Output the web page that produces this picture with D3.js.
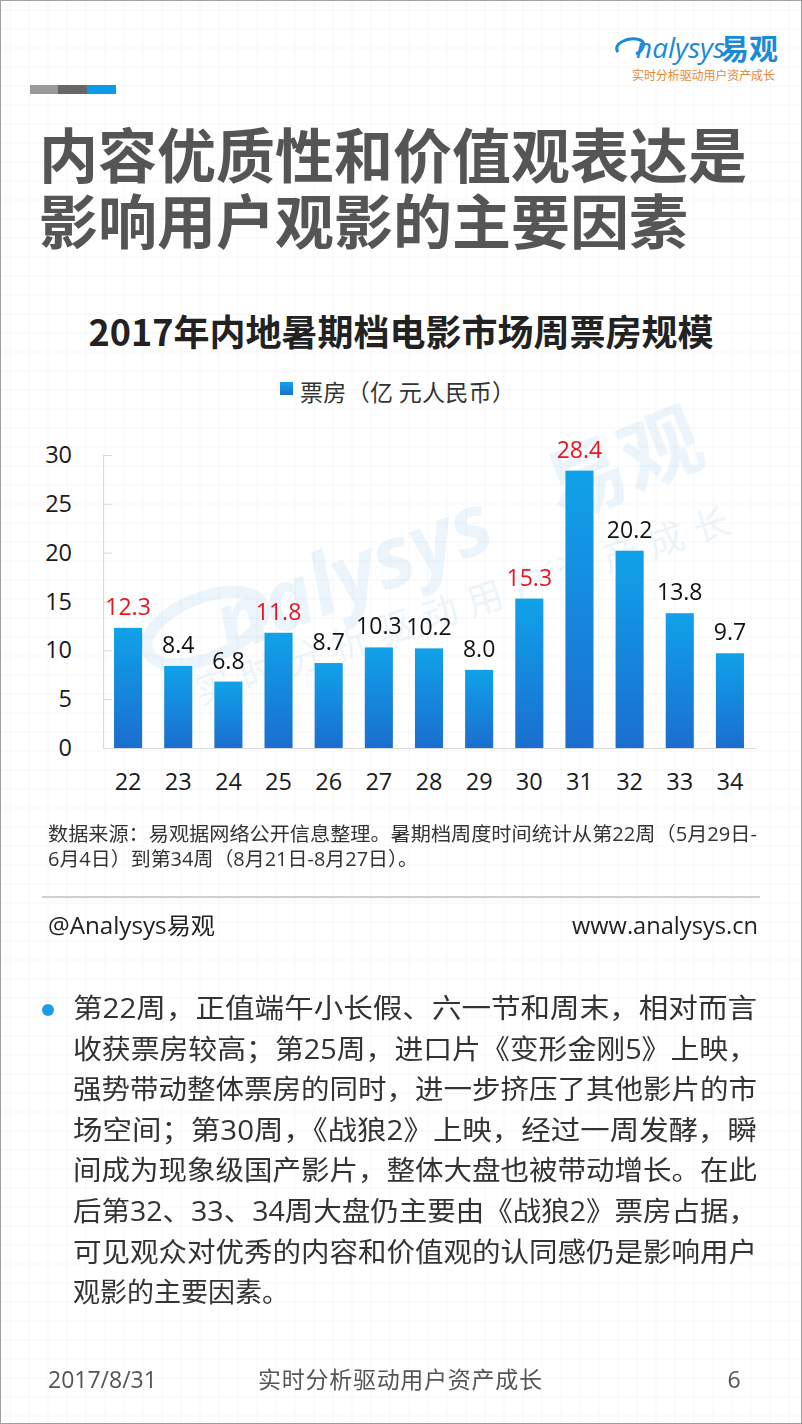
<!DOCTYPE html>
<html>
<head>
<meta charset="utf-8">
<script src="https://cdn.jsdelivr.net/npm/d3@7"></script>
<style>
  body { margin: 0; background: #fff; }
  svg { display: block; }
</style>
</head>
<body>
<script>
// 数据
const weeks = ["22", "23", "24", "25", "26", "27", "28", "29", "30", "31", "32", "33", "34"];
const boxOffice = [12.3, 8.4, 6.8, 11.8, 8.7, 10.3, 10.2, 8.0, 15.3, 28.4, 20.2, 13.8, 9.7];
const redWeeks = ["22", "25", "30", "31"];
const yTicks = [0, 5, 10, 15, 20, 25, 30];

const titleLines = ["内容优质性和价值观表达是", "影响用户观影的主要因素"];
const chartTitle = "2017年内地暑期档电影市场周票房规模";
const legendLabel = "票房（亿 元人民币）";
const noteLines = [
  "数据来源：易观据网络公开信息整理。暑期档周度时间统计从第22周（5月29日-",
  "6月4日）到第34周（8月21日-8月27日）。"
];
const bodyLines = [
  "第22周，正值端午小长假、六一节和周末，相对而言",
  "收获票房较高；第25周，进口片《变形金刚5》上映，",
  "强势带动整体票房的同时，进一步挤压了其他影片的市",
  "场空间；第30周，《战狼2》上映，经过一周发酵，瞬",
  "间成为现象级国产影片，整体大盘也被带动增长。在此",
  "后第32、33、34周大盘仍主要由《战狼2》票房占据，",
  "可见观众对优秀的内容和价值观的认同感仍是影响用户",
  "观影的主要因素。"
];

const width = 802, height = 1424;
const font = "'Open Sans','Noto Sans CJK SC',sans-serif";
const cjk = "'Noto Sans CJK SC','Open Sans',sans-serif";

const svg = d3.select("body").append("svg")
  .attr("width", width)
  .attr("height", height)
  .attr("font-family", font);

// background grid
const bg = svg.append("g");
bg.append("rect").attr("width", width).attr("height", height).attr("fill", "#fff");
for (let x = 10; x < width; x += 19) {
  bg.append("line").attr("x1", x).attr("x2", x).attr("y1", 0).attr("y2", height)
    .attr("stroke", "#f7f7f7").attr("stroke-width", 1);
}
for (let y = 10; y < height; y += 19) {
  bg.append("line").attr("x1", 0).attr("x2", width).attr("y1", y).attr("y2", y)
    .attr("stroke", "#f7f7f7").attr("stroke-width", 1);
}
bg.append("rect").attr("x", 0.5).attr("y", 0.5).attr("width", width - 1).attr("height", height - 1)
  .attr("fill", "none").attr("stroke", "#a0a0a0");

const defs = svg.append("defs");
const grad = defs.append("linearGradient").attr("id", "barGrad")
  .attr("x1", 0).attr("y1", 0).attr("x2", 0).attr("y2", 1);
grad.append("stop").attr("offset", "0%").attr("stop-color", "#10a2e9");
grad.append("stop").attr("offset", "100%").attr("stop-color", "#1b6ecf");

// top-left colour strip
[["#9a9a9a", 30], ["#676767", 58], ["#0a9be6", 87]].forEach(function(d) {
  svg.append("rect").attr("x", d[1]).attr("y", 85).attr("width", 29).attr("height", 9).attr("fill", d[0]);
});

// logo
const logo = svg.append("g");
logo.append("path")
  .attr("d", "M618,52 C612,44 628,36 640,40 C646,42 644,50 636,54")
  .attr("fill", "none").attr("stroke", "#1a8ad6").attr("stroke-width", 3);
logo.append("text").attr("x", 636).attr("y", 58).attr("font-size", 28).attr("font-style", "italic")
  .attr("fill", "#1a8ad6").attr("font-family", font).text("nalysys");
logo.append("text").attr("x", 720).attr("y", 60).attr("font-size", 29).attr("font-weight", "bold")
  .attr("fill", "#1a8ad6").attr("font-family", cjk).text("易观");
logo.append("text").attr("x", 632).attr("y", 80).attr("font-size", 12)
  .attr("textLength", 143).attr("fill", "#e58a33").attr("font-family", cjk).text("实时分析驱动用户资产成长");

// big title
svg.append("g").selectAll("text").data(titleLines).join("text")
  .attr("x", 39)
  .attr("y", function(d, i) { return 178 + i * 66; })
  .attr("font-size", 59)
  .attr("font-weight", "bold")
  .attr("font-family", cjk)
  .attr("fill", "#555")
  .text(function(d) { return d; });

// chart title
svg.append("text").attr("x", 401).attr("y", 346).attr("text-anchor", "middle")
  .attr("font-size", 36).attr("font-weight", "bold").attr("fill", "#222")
  .attr("font-family", cjk).text(chartTitle);

// legend
svg.append("rect").attr("x", 280).attr("y", 382).attr("width", 13).attr("height", 13).attr("fill", "url(#barGrad)");
svg.append("text").attr("x", 300).attr("y", 401).attr("font-size", 23).attr("fill", "#333")
  .attr("font-family", cjk).attr("textLength", 215).text(legendLabel);

// watermark
const wm = svg.append("g").attr("opacity", 0.12).attr("fill", "#5aa8d8");
wm.append("ellipse").attr("cx", 205).attr("cy", 628).attr("rx", 62).attr("ry", 30)
  .attr("transform", "rotate(-22,205,628)").attr("fill", "none").attr("stroke", "#5aa8d8").attr("stroke-width", 12);
wm.append("text").attr("transform", "translate(228,655) rotate(-22)")
  .attr("font-size", 84).attr("font-style", "italic").attr("font-weight", "bold").text("nalysys");
wm.append("text").attr("transform", "translate(560,520) rotate(-22)")
  .attr("font-size", 80).attr("font-weight", "bold").attr("font-family", cjk).text("易观");
wm.append("text").attr("transform", "translate(200,705) rotate(-18)")
  .attr("font-size", 36).attr("font-family", cjk).attr("textLength", 560).text("实时分析驱动用户资产成长");

// scales
const x = d3.scaleBand().domain(weeks).range([103, 755]).paddingInner(0.44).paddingOuter(0.22);
const y = d3.scaleLinear().domain([0, 30]).range([748, 455]);

// y axis
const yAxis = svg.append("g").attr("transform", "translate(103,0)")
  .call(d3.axisLeft(y).tickValues(yTicks).tickSize(-9).tickSizeOuter(0).tickPadding(31));
yAxis.select(".domain").attr("stroke", "#d9d9d9");
yAxis.selectAll(".tick line").attr("stroke", "#d9d9d9");
yAxis.selectAll("text").attr("font-size", 23.5).attr("fill", "#1a1a1a").attr("font-family", font);

// x axis
const xAxis = svg.append("g").attr("transform", "translate(0,748)")
  .call(d3.axisBottom(x).tickSize(0).tickSizeOuter(0));
xAxis.select(".domain").attr("stroke", "#d9d9d9");
xAxis.selectAll("text").attr("font-size", 23.5).attr("fill", "#1a1a1a").attr("font-family", font)
  .attr("dy", null).attr("y", 42);

// bars
const data = weeks.map(function(w, i) { return { week: w, value: boxOffice[i] }; });
svg.append("g").selectAll("rect").data(data).join("rect")
  .attr("x", function(d) { return x(d.week); })
  .attr("y", function(d) { return y(d.value); })
  .attr("width", x.bandwidth())
  .attr("height", function(d) { return y(0) - y(d.value); })
  .attr("fill", "url(#barGrad)");

svg.append("g").selectAll("text").data(data).join("text")
  .attr("x", function(d) { return x(d.week) + x.bandwidth() / 2; })
  .attr("y", function(d) { return y(d.value) - 13; })
  .attr("text-anchor", "middle")
  .attr("font-size", 23)
  .attr("fill", function(d) { return redWeeks.includes(d.week) ? "#e8161d" : "#111"; })
  .text(function(d) { return d.value.toFixed(1); });

// note
svg.append("g").selectAll("text").data(noteLines).join("text")
  .attr("x", 48)
  .attr("y", function(d, i) { return 841 + i * 25; })
  .attr("font-size", 19.5)
  .attr("fill", "#333")
  .attr("font-family", font)
  .attr("textLength", function(d, i) { return i === 0 ? 709 : 370; })
  .attr("lengthAdjust", "spacingAndGlyphs")
  .text(function(d) { return d; });

svg.append("line").attr("x1", 42).attr("x2", 760).attr("y1", 897).attr("y2", 897)
  .attr("stroke", "#cfcfcf").attr("stroke-width", 2);
svg.append("text").attr("x", 48).attr("y", 934).attr("font-size", 23).attr("fill", "#222")
  .attr("textLength", 167).attr("lengthAdjust", "spacingAndGlyphs").text("@Analysys易观");
svg.append("text").attr("x", 758).attr("y", 934).attr("text-anchor", "end").attr("font-size", 23)
  .attr("fill", "#222").attr("textLength", 186).attr("lengthAdjust", "spacingAndGlyphs").text("www.analysys.cn");

// bullet paragraph
svg.append("circle").attr("cx", 48).attr("cy", 1010).attr("r", 6).attr("fill", "#1d9be6");
svg.append("g").selectAll("text").data(bodyLines).join("text")
  .attr("x", 73)
  .attr("y", function(d, i) { return 1018 + i * 40.6; })
  .attr("font-size", 27)
  .attr("fill", "#333")
  .attr("font-family", font)
  .attr("textLength", function(d, i) { return i < bodyLines.length - 1 ? 684 : null; })
  .attr("lengthAdjust", "spacingAndGlyphs")
  .text(function(d) { return d; });

// footer
svg.append("text").attr("x", 48).attr("y", 1388).attr("font-size", 23).attr("fill", "#555").text("2017/8/31");
svg.append("text").attr("x", 258).attr("y", 1388).attr("font-size", 23).attr("fill", "#555")
  .attr("font-family", cjk).attr("textLength", 284).text("实时分析驱动用户资产成长");
svg.append("text").attr("x", 734).attr("y", 1388).attr("text-anchor", "middle").attr("font-size", 23)
  .attr("fill", "#555").text("6");
</script>
</body>
</html>
